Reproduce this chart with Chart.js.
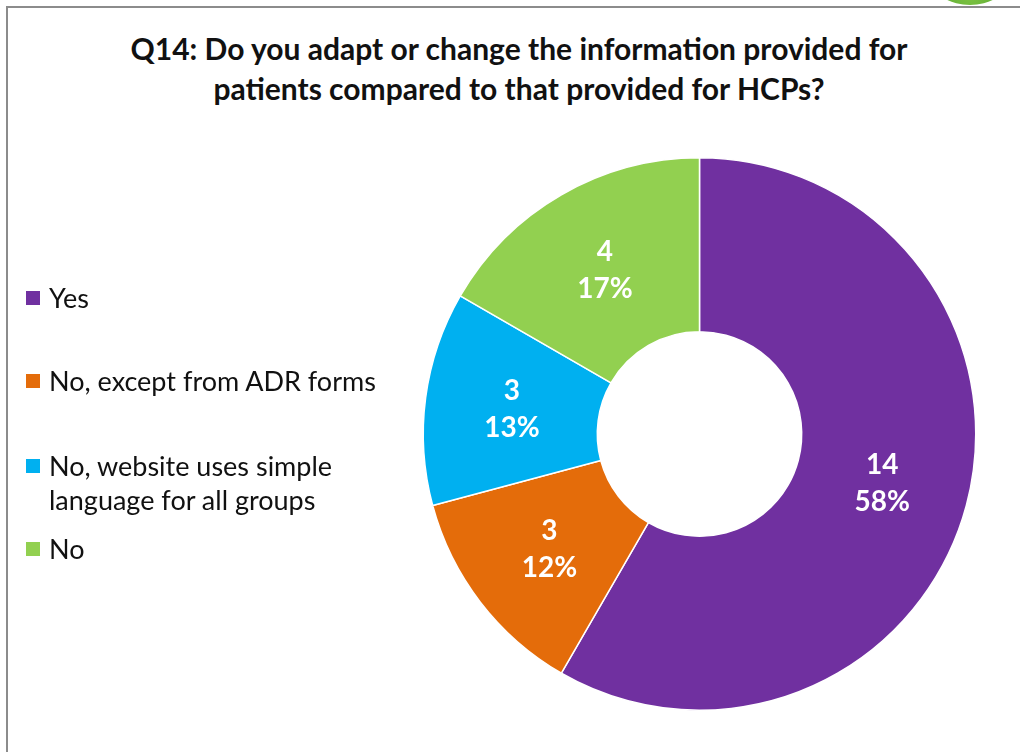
<!DOCTYPE html>
<html>
<head>
<meta charset="utf-8">
<script src="https://cdn.jsdelivr.net/npm/chart.js@4.4.1/dist/chart.umd.min.js"></script>
<style>
  html, body { margin: 0; padding: 0; background: #fff; overflow: hidden; }
  #wrap { position: relative; width: 1020px; height: 752px; overflow: hidden; font-family: Lato, "Open Sans", sans-serif; }
  #frame { position: absolute; left: 6px; top: 6px; width: 1100px; height: 900px; border-left: 2px solid #8c8c8c; border-top: 2px solid #8c8c8c; }
  #logo { position: absolute; left: 934px; top: -40px; width: 72px; height: 45px; border-radius: 50%; background: radial-gradient(ellipse at 50% 80%, #7cc242, #4fa02e); }
  #title { position: absolute; left: 6px; width: 1026px; top: 28px; text-align: center; font-weight: bold; font-size: 30px; line-height: 40px; color: #111; }
  #chartBox { position: absolute; left: 0; top: 0; width: 1020px; height: 752px; }
  .leg { position: absolute; left: 26px; display: flex; align-items: flex-start; font-size: 27px; line-height: 34px; color: #111; }
  .leg .sw { width: 14px; height: 14px; margin-top: 10px; margin-right: 9px; flex: none; }
  .leg .txt { width: 345px; }
</style>
</head>
<body>
<div id="wrap">
  <div id="logo"></div>
  <div id="frame"></div>
  <div id="title">Q14: Do you adapt or change the information provided for<br>patients compared to that provided for HCPs?</div>
  <div id="chartBox"><canvas id="chart"></canvas></div>
  <div id="legend"></div>
</div>
<script>
const labels = [
  "Yes",
  "No, except from ADR forms",
  "No, website uses simple language for all groups",
  "No",
];
const counts = [14, 3, 3, 4];
const shares = ["58%", "12%", "13%", "17%"];
const colors = ["#7030A0", "#E46C0A", "#00B0F0", "#92D050"];

// legend rows (top of each row, px)
const legendTops = [281, 364, 449, 532];

const legendEl = document.getElementById("legend");
labels.forEach((name, i) => {
  const row = document.createElement("div");
  row.className = "leg";
  row.style.top = legendTops[i] + "px";
  row.innerHTML = `<span class="sw" style="background:${colors[i]}"></span><span class="txt">${name}</span>`;
  legendEl.appendChild(row);
});

// count + percent written in the middle of each ring segment
const sliceLabels = {
  id: "sliceLabels",
  afterDatasetsDraw(chart) {
    const c = chart.ctx;
    const meta = chart.getDatasetMeta(0);
    c.save();
    c.fillStyle = "#fff";
    c.font = "bold 28px Lato, 'Open Sans', sans-serif";
    c.textAlign = "center";
    c.textBaseline = "middle";
    meta.data.forEach((arc, i) => {
      const p = arc.getCenterPoint();
      c.fillText(String(counts[i]), p.x, p.y - 18);
      c.fillText(shares[i], p.x, p.y + 19);
    });
    c.restore();
  },
};

const chart = new Chart(document.getElementById("chart"), {
  type: "doughnut",
  data: {
    labels,
    datasets: [
      {
        data: counts,
        backgroundColor: colors,
        borderColor: "#fff",
        borderWidth: 1.5,
      },
    ],
  },
  options: {
    responsive: true,
    maintainAspectRatio: false,
    animation: false,
    cutout: "37%",
    layout: { padding: { left: 422, right: 43, top: 157, bottom: 41 } },
    plugins: {
      legend: { display: false },
      tooltip: { enabled: false },
    },
  },
  plugins: [sliceLabels],
});
</script>
</body>
</html>
